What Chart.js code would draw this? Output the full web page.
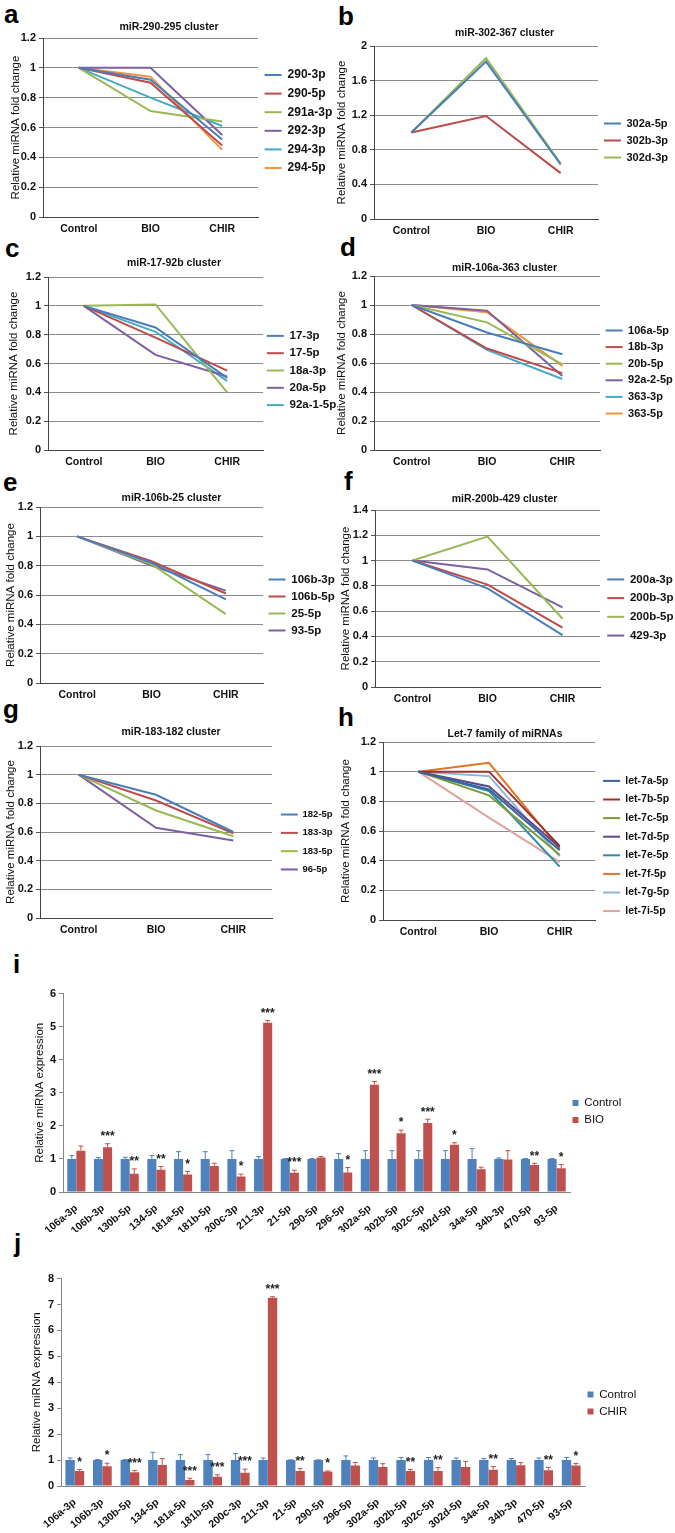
<!DOCTYPE html>
<html lang="en">
<head>
<meta charset="UTF-8">
<title>miRNA fold change</title>
<script src="https://cdn.jsdelivr.net/npm/chart.js"></script>
<style>
  body { margin: 0; background: #fff; width: 675px; height: 1533px; position: relative; overflow: hidden; }
  .tag { position: absolute; font-family: "Liberation Sans", Arial, sans-serif; font-weight: bold; font-size: 26px; line-height: 26px; color: #000; }
</style>
</head>
<body>
<div class="tag" style="left:4px;top:1px">a</div>
<div class="tag" style="left:338px;top:3px">b</div>
<div class="tag" style="left:5px;top:235px">c</div>
<div class="tag" style="left:340px;top:234px">d</div>
<div class="tag" style="left:3px;top:469px">e</div>
<div class="tag" style="left:344px;top:468px">f</div>
<div class="tag" style="left:3px;top:696px">g</div>
<div class="tag" style="left:338px;top:704px">h</div>
<div class="tag" style="left:13px;top:951px">i</div>
<div class="tag" style="left:14px;top:1230px">j</div>
<script>
const F = '"Liberation Sans", Arial, sans-serif';
Chart.defaults.font.family = F;
Chart.defaults.color = '#111';

// line panels a-h
const groups = ['Control', 'BIO', 'CHIR'];

const aNames = ['290-3p', '290-5p', '291a-3p', '292-3p', '294-3p', '294-5p'];
const aValues = [[1, 0.92, 0.52], [1, 0.90, 0.48], [1, 0.71, 0.64], [1, 1.0, 0.55], [1, 0.80, 0.61], [1, 0.94, 0.45]];

const bNames = ['302a-5p', '302b-3p', '302d-3p'];
const bValues = [[1, 1.82, 0.63], [1, 1.19, 0.53], [1, 1.86, 0.64]];

const cNames = ['17-3p', '17-5p', '18a-3p', '20a-5p', '92a-1-5p'];
const cValues = [[1, 0.85, 0.50], [1, 0.78, 0.55], [1, 1.01, 0.40], [1, 0.66, 0.51], [1, 0.82, 0.48]];

const dNames = ['106a-5p', '18b-3p', '20b-5p', '92a-2-5p', '363-3p', '363-5p'];
const dValues = [[1, 0.81, 0.66], [1, 0.70, 0.53], [1, 0.88, 0.59], [1, 0.96, 0.51], [1, 0.69, 0.49], [1, 0.95, 0.58]];

const eNames = ['106b-3p', '106b-5p', '25-5p', '93-5p'];
const eValues = [[1, 0.82, 0.57], [1, 0.83, 0.61], [1, 0.81, 0.47], [1, 0.80, 0.63]];

const fNames = ['200a-3p', '200b-3p', '200b-5p', '429-3p'];
const fValues = [[1, 0.78, 0.41], [1, 0.81, 0.47], [1, 1.19, 0.54], [1, 0.93, 0.63]];

const gNames = ['182-5p', '183-3p', '183-5p', '96-5p'];
const gValues = [[1, 0.86, 0.60], [1, 0.82, 0.59], [1, 0.75, 0.57], [1, 0.63, 0.54]];

const hNames = ['let-7a-5p', 'let-7b-5p', 'let-7c-5p', 'let-7d-5p', 'let-7e-5p', 'let-7f-5p', 'let-7g-5p', 'let-7i-5p'];
const hValues = [[1, 0.88, 0.47], [1, 1.0, 0.50], [1, 0.84, 0.44], [1, 0.90, 0.49], [1, 0.87, 0.36], [1, 1.06, 0.48], [1, 0.97, 0.43], [1, 0.69, 0.39]];

// bar panels i, j
const barLabels = ['106a-3p', '106b-3p', '130b-5p', '134-5p', '181a-5p', '181b-5p', '200c-3p', '211-3p', '21-5p', '290-5p',
  '296-5p', '302a-5p', '302b-5p', '302c-5p', '302d-5p', '34a-5p', '34b-3p', '470-5p', '93-5p'];
const iControl = [1, 1, 1, 1, 1, 1, 1, 1, 1, 1, 1, 1, 1, 1, 1, 1, 1, 1, 1];
const iControlErr = [0.10, 0.04, 0.05, 0.10, 0.22, 0.22, 0.25, 0.07, 0.01, 0.01, 0.16, 0.25, 0.25, 0.25, 0.25, 0.31, 0.03, 0.01, 0.01];
const iBio = [1.25, 1.35, 0.55, 0.67, 0.53, 0.79, 0.47, 5.12, 0.58, 1.04, 0.59, 3.24, 1.78, 2.09, 1.43, 0.69, 0.98, 0.82, 0.72];
const iBioErr = [0.14, 0.11, 0.15, 0.10, 0.09, 0.08, 0.07, 0.07, 0.08, 0.03, 0.15, 0.10, 0.09, 0.11, 0.06, 0.06, 0.27, 0.05, 0.11];
const iSig = ['', '***', '**', '**', '*', '', '*', '***', '***', '', '*', '***', '*', '***', '*', '', '', '**', '*'];

const jControl = [1, 1, 1, 1, 1, 1, 1, 1, 1, 1, 1, 1, 1, 1, 1, 1, 1, 1, 1];
const jControlErr = [0.08, 0.02, 0.02, 0.30, 0.21, 0.21, 0.25, 0.08, 0.01, 0.01, 0.16, 0.08, 0.10, 0.10, 0.08, 0.06, 0.06, 0.08, 0.10];
const jChir = [0.58, 0.76, 0.53, 0.81, 0.23, 0.36, 0.51, 7.26, 0.58, 0.56, 0.79, 0.73, 0.58, 0.58, 0.73, 0.63, 0.80, 0.61, 0.79];
const jChirErr = [0.06, 0.12, 0.07, 0.25, 0.07, 0.07, 0.14, 0.04, 0.10, 0.02, 0.12, 0.13, 0.06, 0.13, 0.22, 0.12, 0.10, 0.11, 0.08];
const jSig = ['*', '*', '***', '', '***', '***', '***', '***', '**', '*', '', '', '**', '**', '', '**', '', '**', '*'];

const six = ['#4A7EBB', '#BE4B48', '#98B954', '#7D60A0', '#46AAC5', '#F69240'];
const let7 = ['#35649E', '#9E302D', '#7A9A3A', '#5E4A87', '#2F8DA6', '#E4741F', '#8FB3E0', '#E2A09E'];

// legend with a fixed width (so the plot area ends where we want), nudged by dx/dy
function legendBox(w, dx, dy) {
  return {
    id: 'legendBox',
    beforeLayout(chart) {
      const lg = chart.legend;
      if (lg && !lg._fixed) {
        const fit = lg.fit;
        lg.fit = function () { fit.call(this); this.width = w; };
        lg._fixed = true;
      }
    },
    afterLayout(chart) {
      const lg = chart.legend;
      lg.left += dx || 0; lg.right += dx || 0;
      lg.top += dy || 0; lg.bottom += dy || 0;
    }
  };
}

function addCanvas(left, top, w, h) {
  const c = document.createElement('canvas');
  c.width = w; c.height = h;
  c.style.position = 'absolute';
  c.style.left = left + 'px';
  c.style.top = top + 'px';
  document.body.appendChild(c);
  return c;
}

function lineChart(g, title, names, values, colors, yMax, yStep) {
  const T = Math.round(g.titleY - 6.3);
  const pb = g.top - T - 12.6;
  const xh = 24;
  const W = g.plotR - g.left + g.legW;
  const H = g.bottom - T + xh;
  const canvas = addCanvas(g.left, T, W, H);
  new Chart(canvas, {
    type: 'line',
    plugins: [legendBox(g.legW, g.legDx, g.legDy)],
    data: {
      labels: groups,
      datasets: names.map((n, k) => ({
        label: n, data: values[k], borderColor: colors[k], backgroundColor: colors[k],
        borderWidth: 2, pointRadius: 0, tension: 0, fill: false
      }))
    },
    options: {
      responsive: false,
      animation: false,
      layout: { padding: 0 },
      plugins: {
        title: { display: true, text: title, color: '#111', font: { size: 10.5, weight: 'bold' }, padding: { top: 0, bottom: pb } },
        legend: {
          position: 'right', fullSize: false, align: 'center',
          labels: {
            usePointStyle: true, pointStyle: 'line', pointStyleWidth: 17, boxHeight: g.legFont,
            color: '#111', font: { size: g.legFont, weight: 'bold' }, padding: g.legPad
          }
        },
        tooltip: { enabled: false }
      },
      scales: {
        x: {
          offset: true,
          grid: { display: false, drawTicks: false },
          border: { color: '#444' },
          ticks: { color: '#111', font: { size: 10.5, weight: 'bold' }, padding: 6, maxRotation: 0 },
          afterFit: s => { s.height = xh; }
        },
        y: {
          min: 0, max: yMax,
          ticks: { stepSize: yStep, color: '#111', font: { size: 11, weight: 'bold' }, padding: 3, callback: v => String(+v.toFixed(1)) },
          grid: { color: '#8c8c8c', tickLength: 4, tickColor: '#555' },
          border: { color: '#444' },
          title: { display: true, text: 'Relative miRNA fold change', color: '#111', font: { size: 11.5 }, padding: { top: g.yTitleX - g.left - 6.9, bottom: 0 } },
          afterFit: s => { s.width = g.plotL - g.left; }
        }
      }
    }
  });
}

const errorBars = {
  id: 'errorBars',
  afterDatasetsDraw(chart) {
    const ctx = chart.ctx;
    const y = chart.scales.y;
    chart.data.datasets.forEach((ds, di) => {
      const meta = chart.getDatasetMeta(di);
      meta.data.forEach((bar, i) => {
        const top = y.getPixelForValue(ds.data[i] + ds.errors[i]);
        ctx.save();
        ctx.strokeStyle = ds.backgroundColor;
        ctx.lineWidth = 1;
        ctx.beginPath();
        ctx.moveTo(bar.x, bar.y);
        ctx.lineTo(bar.x, top);
        ctx.moveTo(bar.x - 2.5, top);
        ctx.lineTo(bar.x + 2.5, top);
        ctx.stroke();
        if (ds.stars && ds.stars[i]) {
          ctx.fillStyle = '#222';
          ctx.font = 'bold 12px ' + F;
          ctx.textAlign = 'center';
          ctx.textBaseline = 'bottom';
          ctx.fillText(ds.stars[i], bar.x, top - 1);
        }
        ctx.restore();
      });
    });
  }
};

function barChart(g, ctrl, ctrlErr, trt, trtErr, sig, trtName, yMax) {
  const T = g.top - 7;
  const W = g.plotR - g.left + g.legW;
  const H = g.bottom - T + g.xh;
  const canvas = addCanvas(g.left, T, W, H);
  new Chart(canvas, {
    type: 'bar',
    plugins: [legendBox(g.legW, -3, 0), errorBars],
    data: {
      labels: barLabels,
      datasets: [
        { label: 'Control', data: ctrl, errors: ctrlErr, backgroundColor: '#4F81BD' },
        { label: trtName, data: trt, errors: trtErr, stars: sig, backgroundColor: '#C0504D' }
      ]
    },
    options: {
      responsive: false,
      animation: false,
      layout: { padding: { top: 7 } },
      datasets: { bar: { categoryPercentage: 0.68, barPercentage: 1 } },
      plugins: {
        legend: {
          position: 'right',
          labels: { boxWidth: 6, boxHeight: 6, color: '#111', font: { size: 11.5 }, padding: 5.5 }
        },
        tooltip: { enabled: false }
      },
      scales: {
        x: {
          grid: { display: false },
          border: { color: '#888' },
          ticks: { autoSkip: false, minRotation: 40, maxRotation: 40, color: '#111', font: { size: 10.5, weight: 'bold' }, padding: 2 },
          afterFit: s => { s.height = g.xh; }
        },
        y: {
          min: 0, max: yMax,
          ticks: { stepSize: 1, color: '#111', font: { size: 11, weight: 'bold' }, padding: 3 },
          grid: { drawOnChartArea: false, tickLength: 4, color: '#888' },
          border: { color: '#888' },
          title: { display: true, text: 'Relative miRNA expression', color: '#111', font: { size: 11.5 }, padding: { top: g.yTitleX - 6.9, bottom: 0 } },
          afterFit: s => { s.width = g.plotL - g.left; }
        }
      }
    }
  });
}

lineChart({ left: 0, titleY: 27, top: 38, bottom: 217, plotL: 43, plotR: 258, legW: 80, legFont: 12, legPad: 6.6, legDy: -6, yTitleX: 16 },
  'miR-290-295 cluster', aNames, aValues, six, 1.2, 0.2);
lineChart({ left: 335, titleY: 33, top: 46, bottom: 219, plotL: 374, plotR: 598, legW: 76, legFont: 11, legPad: 6, legDy: 8, yTitleX: 342 },
  'miR-302-367 cluster', bNames, bValues, six, 2, 0.4);
lineChart({ left: 0, titleY: 263, top: 277, bottom: 450, plotL: 48, plotR: 263, legW: 85, legFont: 11.5, legPad: 5.8, legDx: -2, legDy: 7, yTitleX: 14 },
  'miR-17-92b cluster', cNames, cValues, six, 1.2, 0.2);
lineChart({ left: 335, titleY: 268, top: 276, bottom: 450, plotL: 374, plotR: 600, legW: 74, legFont: 11, legPad: 5.6, legDy: 9, yTitleX: 342 },
  'miR-106a-363 cluster', dNames, dValues, six, 1.2, 0.2);
lineChart({ left: 0, titleY: 498, top: 507, bottom: 683, plotL: 40, plotR: 263, legW: 80, legFont: 11.5, legPad: 5.5, legDy: 10, yTitleX: 11 },
  'miR-106b-25 cluster', eNames, eValues, six, 1.2, 0.2);
lineChart({ left: 335, titleY: 499, top: 510, bottom: 687, plotL: 375, plotR: 600, legW: 74, legFont: 11.5, legPad: 7.2, legDy: 9, yTitleX: 346 },
  'miR-200b-429 cluster', fNames, fValues, six, 1.4, 0.2);
lineChart({ left: 0, titleY: 732, top: 746, bottom: 918, plotL: 40, plotR: 272, legW: 70, legFont: 9.5, legPad: 8.8, legDy: 10, yTitleX: 11 },
  'miR-183-182 cluster', gNames, gValues, six, 1.2, 0.2);
lineChart({ left: 335, titleY: 734, top: 742, bottom: 920, plotL: 383, plotR: 595, legW: 80, legFont: 10.5, legPad: 8.1, legDy: 15, yTitleX: 346 },
  'Let-7 family of miRNAs', hNames, hValues, let7, 1.2, 0.2);

barChart({ left: 0, top: 991, bottom: 1192, plotL: 63, plotR: 570, legW: 70, xh: 40, yTitleX: 40 },
  iControl, iControlErr, iBio, iBioErr, iSig, 'BIO', 6);
barChart({ left: 0, top: 1276, bottom: 1486, plotL: 61, plotR: 585, legW: 70, xh: 44, yTitleX: 37 },
  jControl, jControlErr, jChir, jChirErr, jSig, 'CHIR', 8);
</script>
</body>
</html>
